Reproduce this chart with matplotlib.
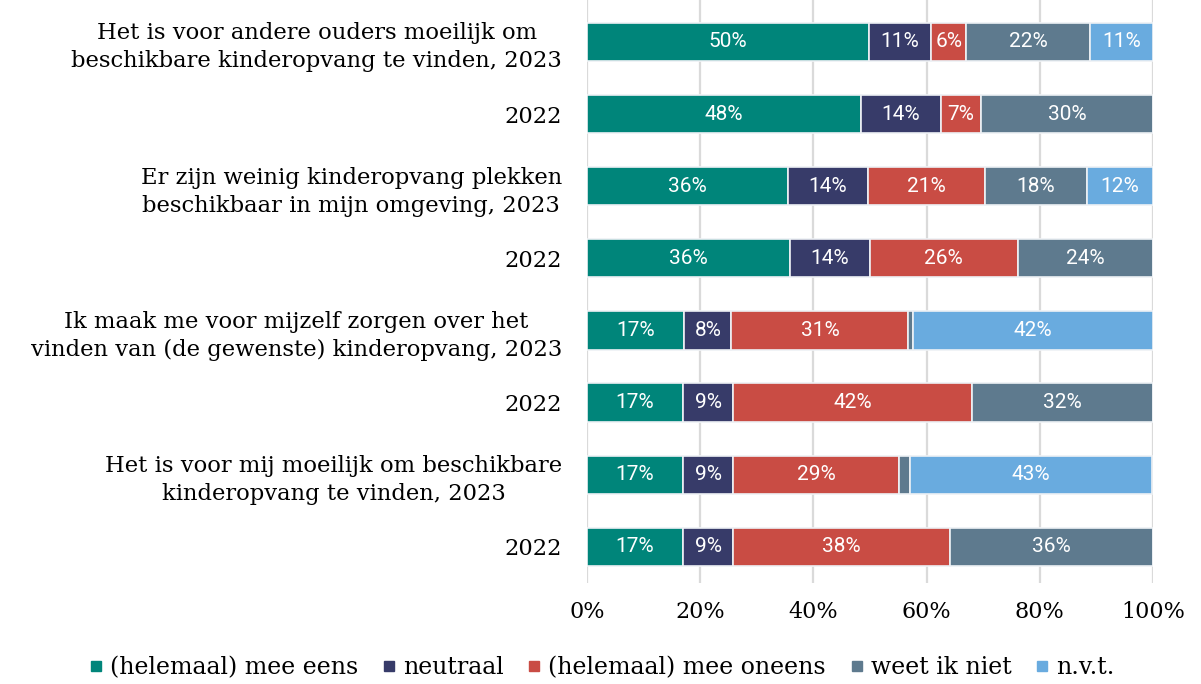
import matplotlib
matplotlib.use("Agg")
import matplotlib.pyplot as plt
from matplotlib.lines import Line2D

labels = [
    "Het is voor andere ouders moeilijk om\nbeschikbare kinderopvang te vinden, 2023",
    "2022",
    "Er zijn weinig kinderopvang plekken\nbeschikbaar in mijn omgeving, 2023",
    "2022",
    "Ik maak me voor mijzelf zorgen over het\nvinden van (de gewenste) kinderopvang, 2023",
    "2022",
    "Het is voor mij moeilijk om beschikbare\nkinderopvang te vinden, 2023",
    "2022",
]
series_names = ["(helemaal) mee eens", "neutraal", "(helemaal) mee oneens", "weet ik niet", "n.v.t."]
mee_eens = [49.8, 48.4, 35.6, 35.9, 17.2, 17.0, 17.0, 17.0]
neutraal = [11.0, 14.1, 14.0, 14.1, 8.3, 8.8, 8.8, 8.8]
mee_oneens = [6.2, 7.1, 20.8, 26.1, 31.3, 42.2, 29.3, 38.3]
weet_niet = [21.9, 30.4, 17.9, 23.9, 0.8, 32.0, 1.9, 35.9]
nvt = [11.1, 0.0, 11.7, 0.0, 42.4, 0.0, 42.9, 0.0]
colors = ["#00857A", "#373B69", "#C94C44", "#5E7A8E", "#69ABDF"]
xticks = [0, 20, 40, 60, 80, 100]

serif = "DejaVu Serif"
fig = plt.figure(figsize=(12.01, 6.84), dpi=100)
ax = fig.add_axes([587 / 1201, 1 - 583 / 684, (1153 - 587) / 1201, 583 / 684])

ypos = list(range(len(labels)))
left = [0.0] * len(labels)
for vals, col in zip([mee_eens, neutraal, mee_oneens, weet_niet, nvt], colors):
    ax.barh(ypos, vals, left=left, height=0.53, color=col,
            edgecolor="#EEF1F5", linewidth=1.2, zorder=3)
    for y, v, l in zip(ypos, vals, left):
        if v >= 3:
            ax.text(l + v / 2, y, f"{round(v)}%", ha="center", va="center",
                    color="white", fontsize=15, family="Roboto", zorder=4)
    left = [a + b for a, b in zip(left, vals)]

ax.set_xlim(0, 100)
ax.set_ylim(7.5, -0.58)
ax.set_xticks(xticks)
ax.set_xticklabels([f"{t}%" for t in xticks], family=serif, fontsize=16)
ax.set_yticks(ypos)
ax.set_yticklabels(labels, family=serif, fontsize=16.3, multialignment="center",
                   linespacing=1.35)
ax.tick_params(axis="both", length=0)
ax.tick_params(axis="x", pad=13)
ax.tick_params(axis="y", pad=18)
ax.grid(axis="x", color="#DADADA", linewidth=1.6, zorder=0)
for s in ax.spines.values():
    s.set_visible(False)

handles = [Line2D([], [], marker="s", linestyle="none", markersize=7,
                  markerfacecolor=c, markeredgecolor=c) for c in colors]
fig.legend(handles, series_names, loc="center", bbox_to_anchor=(0.5, 1 - 668 / 684),
           ncol=5, frameon=False, prop={"family": serif, "size": 17},
           handletextpad=0.2, columnspacing=0.9, handlelength=0.8)

fig.savefig("out.png", dpi=100)
